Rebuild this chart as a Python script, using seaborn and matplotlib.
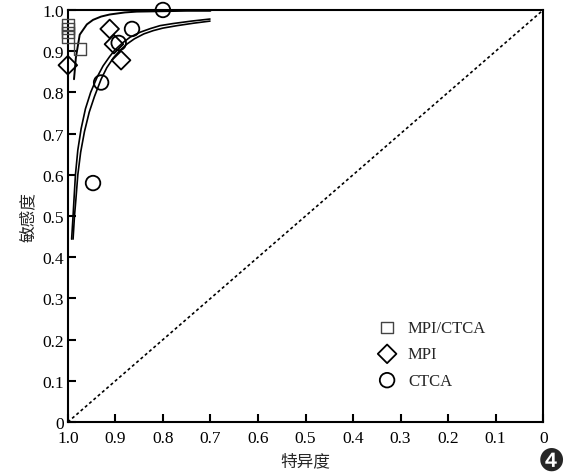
import matplotlib
matplotlib.use('Agg')
import matplotlib.pyplot as plt
import numpy as np
import pandas as pd
import seaborn as sns

# study points (specificity, sensitivity)
combo_spec = [1.0, 1.0, 1.0, 1.0, 0.975]
combo_sens = [0.965, 0.955, 0.945, 0.935, 0.905]
mpi_spec = [1.0, 0.912, 0.903, 0.888]
mpi_sens = [0.866, 0.954, 0.917, 0.878]
ctca_spec = [0.80, 0.865, 0.93, 0.947, 0.893]
ctca_sens = [1.0, 0.954, 0.824, 0.58, 0.92]

# SROC curves
combo_curve_spec = [0.987, 0.983, 0.975, 0.960, 0.947, 0.930, 0.912, 0.880, 0.855, 0.80, 0.75, 0.70]
combo_curve_sens = [0.832, 0.885, 0.940, 0.965, 0.976, 0.984, 0.989, 0.994, 0.996, 0.997, 0.998, 0.998]
mpi_curve_spec = [0.992, 0.989, 0.987, 0.984, 0.979, 0.972, 0.963, 0.952, 0.938, 0.926, 0.912, 0.901, 0.885, 0.869, 0.848, 0.826, 0.806, 0.779, 0.740, 0.701]
mpi_curve_sens = [0.444, 0.500, 0.541, 0.600, 0.660, 0.712, 0.760, 0.800, 0.838, 0.864, 0.887, 0.903, 0.920, 0.934, 0.946, 0.955, 0.962, 0.967, 0.973, 0.978]
ctca_curve_spec = [0.989, 0.986, 0.983, 0.979, 0.973, 0.965, 0.955, 0.944, 0.930, 0.918, 0.904, 0.891, 0.876, 0.860, 0.840, 0.820, 0.800, 0.770, 0.735, 0.701]
ctca_curve_sens = [0.444, 0.500, 0.541, 0.600, 0.655, 0.705, 0.752, 0.790, 0.832, 0.860, 0.884, 0.901, 0.917, 0.930, 0.942, 0.950, 0.956, 0.962, 0.968, 0.973]

ticks = [1.0, 0.9, 0.8, 0.7, 0.6, 0.5, 0.4, 0.3, 0.2, 0.1, 0]
tick_labels = ['1.0', '0.9', '0.8', '0.7', '0.6', '0.5', '0.4', '0.3', '0.2', '0.1', '0']

sns.set_style('white', {'xtick.bottom': True, 'ytick.left': True,
                        'xtick.direction': 'in', 'ytick.direction': 'in',
                        'xtick.color': 'black', 'ytick.color': 'black'})
plt.rcParams['font.family'] = ['Liberation Serif', 'DejaVu Sans']
plt.rcParams['xtick.major.size'] = 6
plt.rcParams['ytick.major.size'] = 6
plt.rcParams['xtick.major.width'] = 1.5
plt.rcParams['ytick.major.width'] = 1.5

fig = plt.figure(figsize=(5.7, 4.77), dpi=100)
ax = fig.add_axes([0.119, 0.113, 0.834, 0.864])

ax.plot([1, 0], [0, 1], ls=(0, (1.8, 1.6)), color='black', lw=1.2)

for xs, ys, w in [(combo_curve_spec, combo_curve_sens, 1.4),
                  (mpi_curve_spec, mpi_curve_sens, 1.2),
                  (ctca_curve_spec, ctca_curve_sens, 1.2)]:
    sns.lineplot(x=xs, y=ys, sort=False, estimator=None, color='black', lw=w, ax=ax)

sns.scatterplot(x=combo_spec, y=combo_sens, marker='s', s=70, facecolor='none', edgecolor='#444444',
                linewidth=1.0, label='MPI/CTCA', ax=ax, clip_on=False, zorder=5)
sns.scatterplot(x=mpi_spec, y=mpi_sens, marker='D', s=90, facecolor='none', edgecolor='black',
                linewidth=1.3, label='MPI', ax=ax, clip_on=False, zorder=5)
sns.scatterplot(x=ctca_spec, y=ctca_sens, marker='o', s=110, facecolor='none', edgecolor='black',
                linewidth=1.3, label='CTCA', ax=ax, clip_on=False, zorder=5)

ax.set_xlim(1.0, 0)
ax.set_ylim(0, 1.0)
ax.set_xticks(ticks)
ax.set_xticklabels(tick_labels, fontsize=12.5)
ax.set_yticks(ticks)
ax.set_yticklabels(tick_labels, fontsize=12.5)
ax.tick_params(axis='x', pad=6)
ax.tick_params(axis='y', pad=3)
for s in ax.spines.values():
    s.set_linewidth(1.5)
    s.set_color('black')

ax.set_xlabel('特异度', fontsize=12, family=['Noto Sans CJK SC'], labelpad=4)
ax.set_ylabel('敏感度', fontsize=12, family=['Noto Sans CJK SC'], labelpad=4)

ax.legend(loc='lower left', bbox_to_anchor=(0.605, 0.045), frameon=False, fontsize=12,
          handletextpad=0.25, labelspacing=0.62)

fig.text(0.968, 0.03, '❹', fontsize=22, family=['DejaVu Sans'], ha='center', va='center')

fig.savefig('out.png', dpi=100)
